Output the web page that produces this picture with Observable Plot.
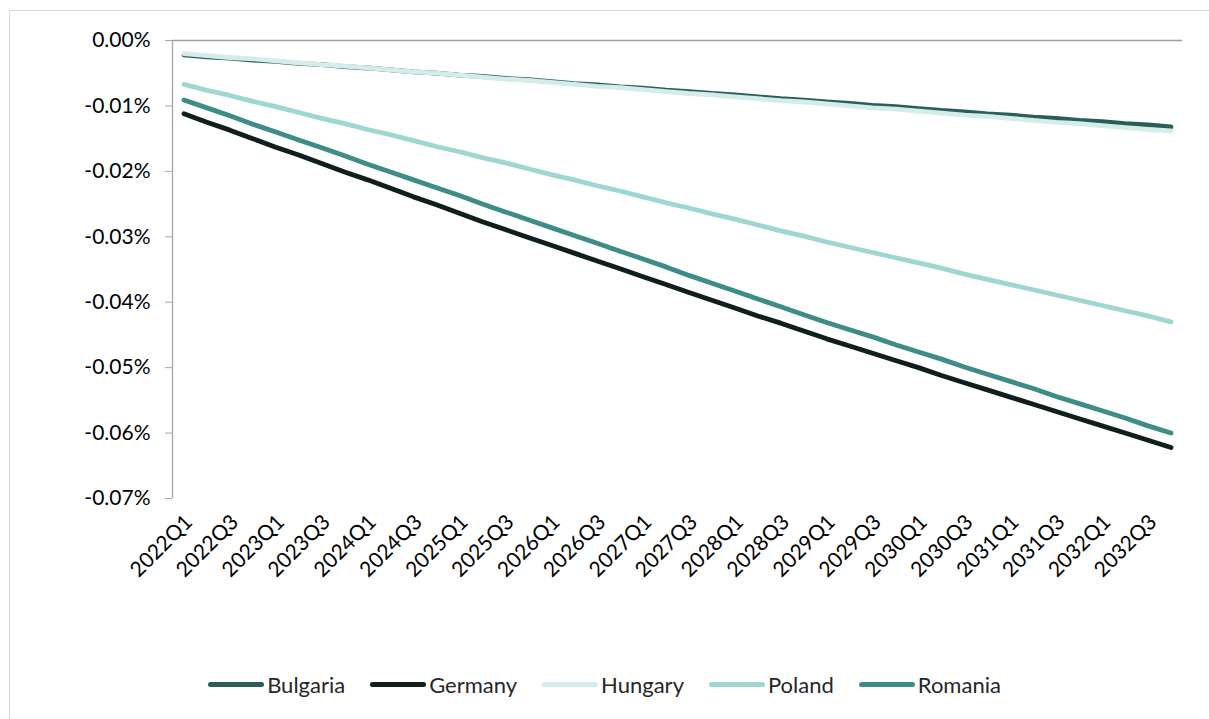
<!DOCTYPE html>
<html>
<head>
<meta charset="utf-8">
<script src="https://cdn.jsdelivr.net/npm/d3@7"></script>
<script src="https://cdn.jsdelivr.net/npm/@observablehq/plot@0.6"></script>
<style>
  html, body { margin: 0; padding: 0; background: #fff; }
  body { width: 1209px; height: 719px; position: relative; overflow: hidden; font-family: Lato, "Open Sans", sans-serif; }
  #frame { position: absolute; left: 9px; top: 10px; width: 1220px; height: 730px; border: 1px solid #d9d9d9; box-sizing: border-box; }
  #chart { position: absolute; left: 0; top: 0; }
  #legend { position: absolute; left: 0; top: 671px; width: 1209px; display: flex; justify-content: center; padding-left: 0px; box-sizing: border-box; gap: 25px; font-size: 22px; color: #262626; }
  .item { display: flex; align-items: center; gap: 3px; }
  .sw { width: 56px; height: 5px; border-radius: 3px; }
</style>
</head>
<body>
<div id="frame"></div>
<div id="chart"></div>
<div id="legend"></div>
<script>
const quarters = [
  "2022Q1","2022Q2","2022Q3","2022Q4","2023Q1","2023Q2","2023Q3","2023Q4",
  "2024Q1","2024Q2","2024Q3","2024Q4","2025Q1","2025Q2","2025Q3","2025Q4",
  "2026Q1","2026Q2","2026Q3","2026Q4","2027Q1","2027Q2","2027Q3","2027Q4",
  "2028Q1","2028Q2","2028Q3","2028Q4","2029Q1","2029Q2","2029Q3","2029Q4",
  "2030Q1","2030Q2","2030Q3","2030Q4","2031Q1","2031Q2","2031Q3","2031Q4",
  "2032Q1","2032Q2","2032Q3","2032Q4"
];
const countries = ["Bulgaria", "Germany", "Hungary", "Poland", "Romania"];
const colors = ["#2a5e5a", "#0f1f1c", "#d4edeb", "#9dd6d3", "#3d8c86"];
const yTicks = [0, -0.01, -0.02, -0.03, -0.04, -0.05, -0.06, -0.07];

// values in percent
const bulgaria = [-0.0022,-0.0025,-0.0027,-0.0030,-0.0032,-0.0035,-0.0037,-0.0040,-0.0042,-0.0045,-0.0048,-0.0050,-0.0053,-0.0055,-0.0058,-0.0060,-0.0063,-0.0066,-0.0068,-0.0071,-0.0073,-0.0076,-0.0078,-0.0081,-0.0083,-0.0086,-0.0089,-0.0091,-0.0094,-0.0096,-0.0099,-0.0101,-0.0104,-0.0107,-0.0109,-0.0112,-0.0114,-0.0117,-0.0119,-0.0122,-0.0124,-0.0127,-0.0129,-0.0132];
const germany = [-0.0112,-0.0125,-0.0137,-0.0150,-0.0163,-0.0175,-0.0188,-0.0201,-0.0213,-0.0226,-0.0239,-0.0251,-0.0264,-0.0277,-0.0289,-0.0301,-0.0313,-0.0325,-0.0337,-0.0349,-0.0361,-0.0373,-0.0385,-0.0397,-0.0409,-0.0421,-0.0432,-0.0444,-0.0456,-0.0467,-0.0478,-0.0489,-0.0500,-0.0512,-0.0523,-0.0534,-0.0545,-0.0556,-0.0567,-0.0578,-0.0589,-0.0600,-0.0611,-0.0622];
const hungary = [-0.0020,-0.0023,-0.0026,-0.0028,-0.0031,-0.0034,-0.0037,-0.0039,-0.0042,-0.0045,-0.0048,-0.0050,-0.0053,-0.0056,-0.0059,-0.0061,-0.0064,-0.0067,-0.0070,-0.0072,-0.0075,-0.0078,-0.0081,-0.0083,-0.0086,-0.0089,-0.0092,-0.0094,-0.0097,-0.0100,-0.0103,-0.0105,-0.0108,-0.0111,-0.0114,-0.0116,-0.0119,-0.0122,-0.0125,-0.0127,-0.0130,-0.0133,-0.0136,-0.0138];
const poland = [-0.0067,-0.0076,-0.0084,-0.0093,-0.0101,-0.0110,-0.0119,-0.0127,-0.0136,-0.0144,-0.0153,-0.0162,-0.0170,-0.0179,-0.0187,-0.0196,-0.0205,-0.0213,-0.0222,-0.0230,-0.0239,-0.0248,-0.0256,-0.0265,-0.0273,-0.0282,-0.0291,-0.0299,-0.0308,-0.0316,-0.0324,-0.0332,-0.0340,-0.0348,-0.0357,-0.0365,-0.0373,-0.0381,-0.0389,-0.0397,-0.0405,-0.0413,-0.0421,-0.0430];
const romania = [-0.0091,-0.0103,-0.0115,-0.0128,-0.0140,-0.0152,-0.0164,-0.0176,-0.0189,-0.0201,-0.0213,-0.0225,-0.0237,-0.0250,-0.0262,-0.0274,-0.0286,-0.0298,-0.0310,-0.0322,-0.0334,-0.0346,-0.0359,-0.0371,-0.0383,-0.0395,-0.0407,-0.0419,-0.0431,-0.0442,-0.0453,-0.0465,-0.0476,-0.0487,-0.0499,-0.0510,-0.0521,-0.0532,-0.0544,-0.0555,-0.0566,-0.0577,-0.0589,-0.0600];

const seriesValues = [bulgaria, germany, hungary, poland, romania];
const data = [];
countries.forEach((c, k) => seriesValues[k].forEach((v, i) => data.push({country: c, i, value: v})));

const fmtY = d => (Math.abs(d) < 1e-9 ? "0.00%" : (d < 0 ? "-" : "") + Math.abs(d).toFixed(2) + "%");
const xTicks = quarters.map((q, i) => i).filter(i => i % 2 === 0);

const chart = Plot.plot({
  width: 1209,
  height: 640,
  marginLeft: 172,
  marginRight: 27,
  marginTop: 40,
  marginBottom: 142,
  style: {fontFamily: "Lato, 'Open Sans', sans-serif", fontSize: "21px", color: "#000", background: "transparent"},
  x: {domain: [-0.5, quarters.length - 0.5]},
  y: {domain: [-0.07, 0]},
  color: {domain: countries, range: colors},
  marks: [
    Plot.axisY({ticks: yTicks, tickFormat: fmtY, tickSize: 7, tickPadding: 15, stroke: "#a6a6a6", fill: "#000", fontSize: 21, label: null}),
    Plot.axisX({ticks: xTicks, tickFormat: i => quarters[i], tickSize: 0, tickRotate: -45, tickPadding: 20, dx: 5, fill: "#000", fontSize: 21, label: null, anchor: "bottom"}),
    Plot.ruleX([-0.5], {stroke: "#a6a6a6", strokeWidth: 1.3}),
    Plot.ruleY([0], {stroke: "#a0a0a0", strokeWidth: 1.3}),
    ...countries.map((c, k) => Plot.lineY(data.filter(d => d.country === c), {
      x: "i", y: "value", stroke: colors[k], strokeWidth: 4.8, strokeLinecap: "round", strokeLinejoin: "round"
    }))
  ]
});
document.getElementById("chart").appendChild(chart);

const legend = document.getElementById("legend");
countries.forEach((c, k) => {
  const it = document.createElement("div");
  it.className = "item";
  const sw = document.createElement("div");
  sw.className = "sw";
  sw.style.background = colors[k];
  const t = document.createElement("span");
  t.textContent = c;
  it.appendChild(sw);
  it.appendChild(t);
  legend.appendChild(it);
});
</script>
</body>
</html>
